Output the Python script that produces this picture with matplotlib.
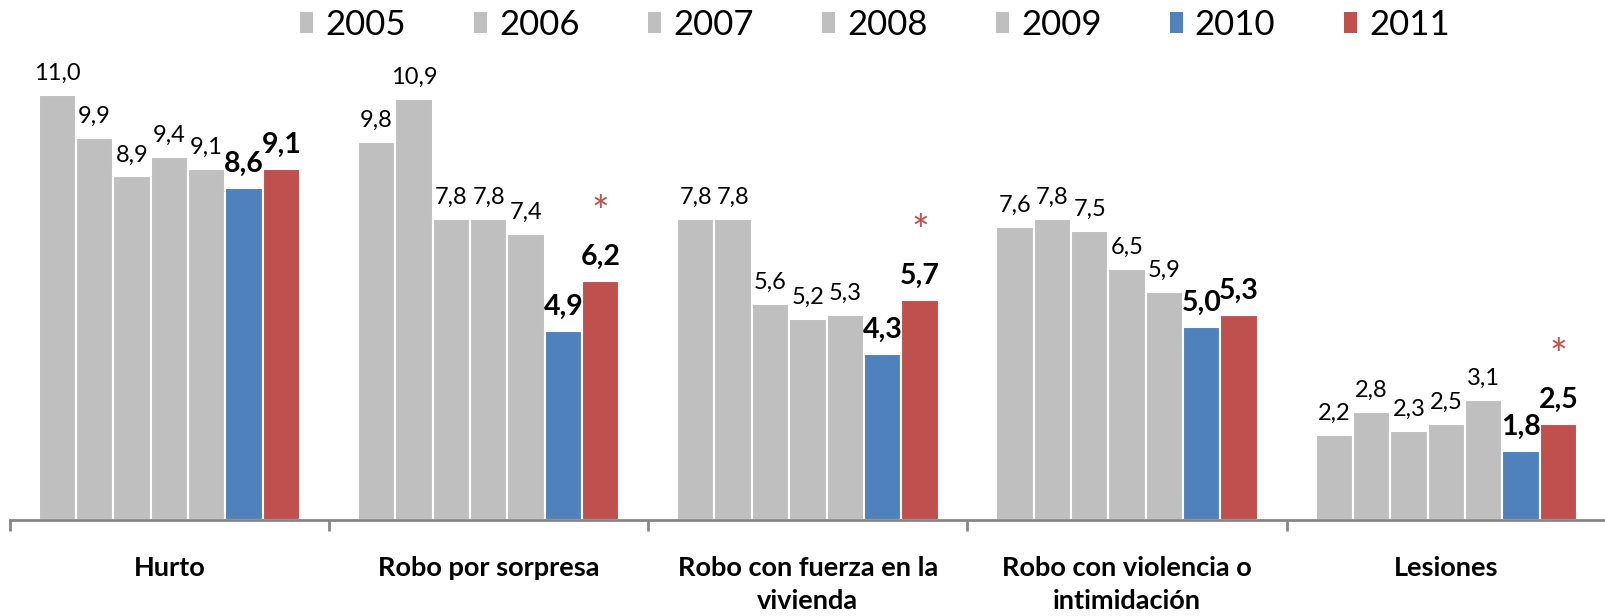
import numpy as np
import matplotlib
matplotlib.use('Agg')
import matplotlib.pyplot as plt
from matplotlib.patches import Patch

plt.rcParams['font.family'] = ['Lato', 'DejaVu Sans']

categories = ['Hurto', 'Robo por sorpresa', 'Robo con fuerza en la\nvivienda',
              'Robo con violencia o\nintimidación', 'Lesiones']
years = ['2005', '2006', '2007', '2008', '2009', '2010', '2011']
v2005 = [11.0, 9.8, 7.8, 7.6, 2.2]
v2006 = [9.9, 10.9, 7.8, 7.8, 2.8]
v2007 = [8.9, 7.8, 5.6, 7.5, 2.3]
v2008 = [9.4, 7.8, 5.2, 6.5, 2.5]
v2009 = [9.1, 7.4, 5.3, 5.9, 3.1]
v2010 = [8.6, 4.9, 4.3, 5.0, 1.8]
v2011 = [9.1, 6.2, 5.7, 5.3, 2.5]
significant = [False, True, True, False, True]  # asterisk over 2011

series = [v2005, v2006, v2007, v2008, v2009, v2010, v2011]
gray, blue, red = '#BFBFBF', '#4F81BD', '#C0504D'
colors = [gray] * 5 + [blue, red]

W, H = 1606, 616
fig = plt.figure(figsize=(W / 100, H / 100), dpi=100)
ppu = 38.6  # pixels per unit
ax_h = 480
left = 9.7
ax = fig.add_axes([left / W, 96 / H, (W - left) / W, ax_h / H])

x = np.arange(len(categories))
pitch = 0.117
for j, vals in enumerate(series):
    pos = x + (j - 3) * pitch
    ax.bar(pos, vals, width=pitch, color=colors[j], edgecolor='white', linewidth=1.5)
    bold = j >= 5
    for p, v in zip(pos, vals):
        ax.annotate(f'{v:.1f}'.replace('.', ','), (p, v), xytext=(0, 8),
                    textcoords='offset points', ha='center', va='bottom',
                    fontsize=20.5 if bold else 17,
                    fontweight='bold' if bold else 'normal')

for i, s in enumerate(significant):
    if s:
        ax.annotate('*', (x[i] + 3 * pitch, v2011[i]), xytext=(0, 48),
                    textcoords='offset points', ha='center', va='center',
                    fontsize=30, color=red)

ax.set_xlim(-0.5, -0.5 + (W - left) / 322.3)
ax.set_ylim(0, ax_h / ppu)
ax.set_yticks([])
for s in ['left', 'right', 'top']:
    ax.spines[s].set_visible(False)
ax.spines['bottom'].set_color('#868686')
ax.spines['bottom'].set_linewidth(2)

ax.set_xticks(np.arange(len(categories) + 1) - 0.5)
ax.set_xticklabels([])
ax.tick_params(axis='x', which='major', direction='out', length=8, width=2, color='#868686')
ax.set_xticks(x, minor=True)
ax.set_xticklabels(categories, minor=True, fontsize=19.5, fontweight='bold', va='top',
                   linespacing=1.42)
ax.tick_params(axis='x', which='minor', length=0, pad=26)

handles = [Patch(facecolor=c, edgecolor='none') for c in colors]
fig.legend(handles, years, loc='center', bbox_to_anchor=(875 / W, 1 - 25 / H), ncol=7,
           frameon=False, fontsize=25, handlelength=0.37, handleheight=0.55,
           handletextpad=0.35, columnspacing=1.97, borderpad=0)

fig.savefig('out.png', dpi=100)
